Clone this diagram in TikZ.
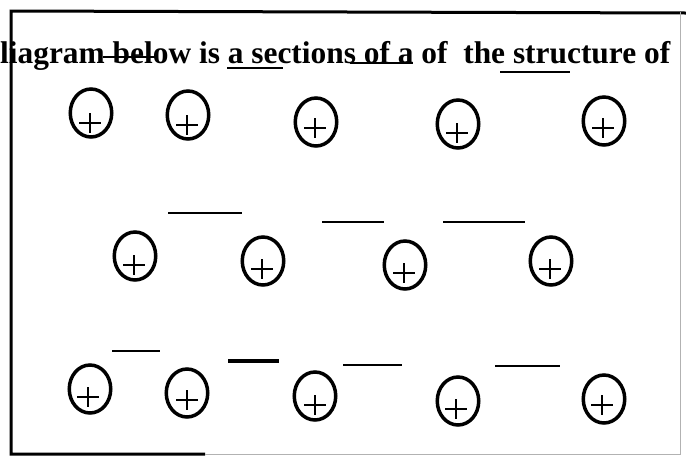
\documentclass[tikz,border=0pt]{standalone}
\usepackage{fontspec}
\setmainfont{Liberation Serif}
\usetikzlibrary{shapes.geometric}
\newcommand\IonAt[5]{%
  \node[ion] (#1) at (#2,#3) {};
  \draw[plusline] ({#4-11},#5) -- ({#4+11},#5) (#4,{#5-10}) -- (#4,{#5+10});}
\begin{document}
\begin{tikzpicture}[x=1pt,y=-1pt,
  ion/.style={ellipse, draw, line width=3.5pt, minimum width=41.5pt, minimum height=48pt, inner sep=0pt},
  plusline/.style={line width=1.7pt},
  dashline/.style={line width=2.6pt},
  frameline/.style={line width=3pt},
  faintline/.style={line width=1pt, black!30}]
\useasboundingbox (0,0) rectangle (686,456);
\clip (0,0) rectangle (686,456);
% frame
\draw[frameline] (686,13) -- (11,11) -- (11,454) -- (205,454);
\draw[faintline] (205,454) -- (680,454) -- (680,12);
% title
\node[anchor=base west, inner sep=0pt, font=\bfseries\fontsize{31.4}{36}\selectfont] (title) at (0,63)
  {liagram below is a sections of a of\ \ the structure of};
% row 1 dashes
\draw[dashline] (103,57) -- (157,57);
\draw[dashline] (227,68) -- (283,68);
\draw[dashline] (350,63) -- (413,63);
\draw[dashline] (500,72) -- (570,72);
% row 2 dashes
\draw[dashline] (168,213) -- (242,213);
\draw[dashline] (322,222) -- (384,222);
\draw[dashline] (443,222) -- (525,222);
% row 3 dashes
\draw[dashline] (112,351) -- (160,351);
\draw[dashline, line width=3.4pt] (228,361) -- (279,361);
\draw[dashline] (343,365) -- (402,365);
\draw[dashline] (495,366) -- (560,366);
% row 1 ions
\IonAt{a1}{91}{113}{90}{123}
\IonAt{a2}{188}{115}{187}{125}
\IonAt{a3}{316}{122}{315}{128}
\IonAt{a4}{458}{124}{457}{133}
\IonAt{a5}{604}{121}{603}{128}
% row 2 ions
\IonAt{b1}{135}{256}{134}{265}
\IonAt{b2}{263}{261}{262}{269}
\IonAt{b3}{405}{265}{404}{273}
\IonAt{b4}{551}{261}{550}{269}
% row 3 ions
\IonAt{c1}{90}{389}{88}{397}
\IonAt{c2}{187}{393}{187}{400}
\IonAt{c3}{315}{396}{315}{405}
\IonAt{c4}{458}{401}{456}{409}
\IonAt{c5}{604}{399}{602}{405}
\end{tikzpicture}
\end{document}
